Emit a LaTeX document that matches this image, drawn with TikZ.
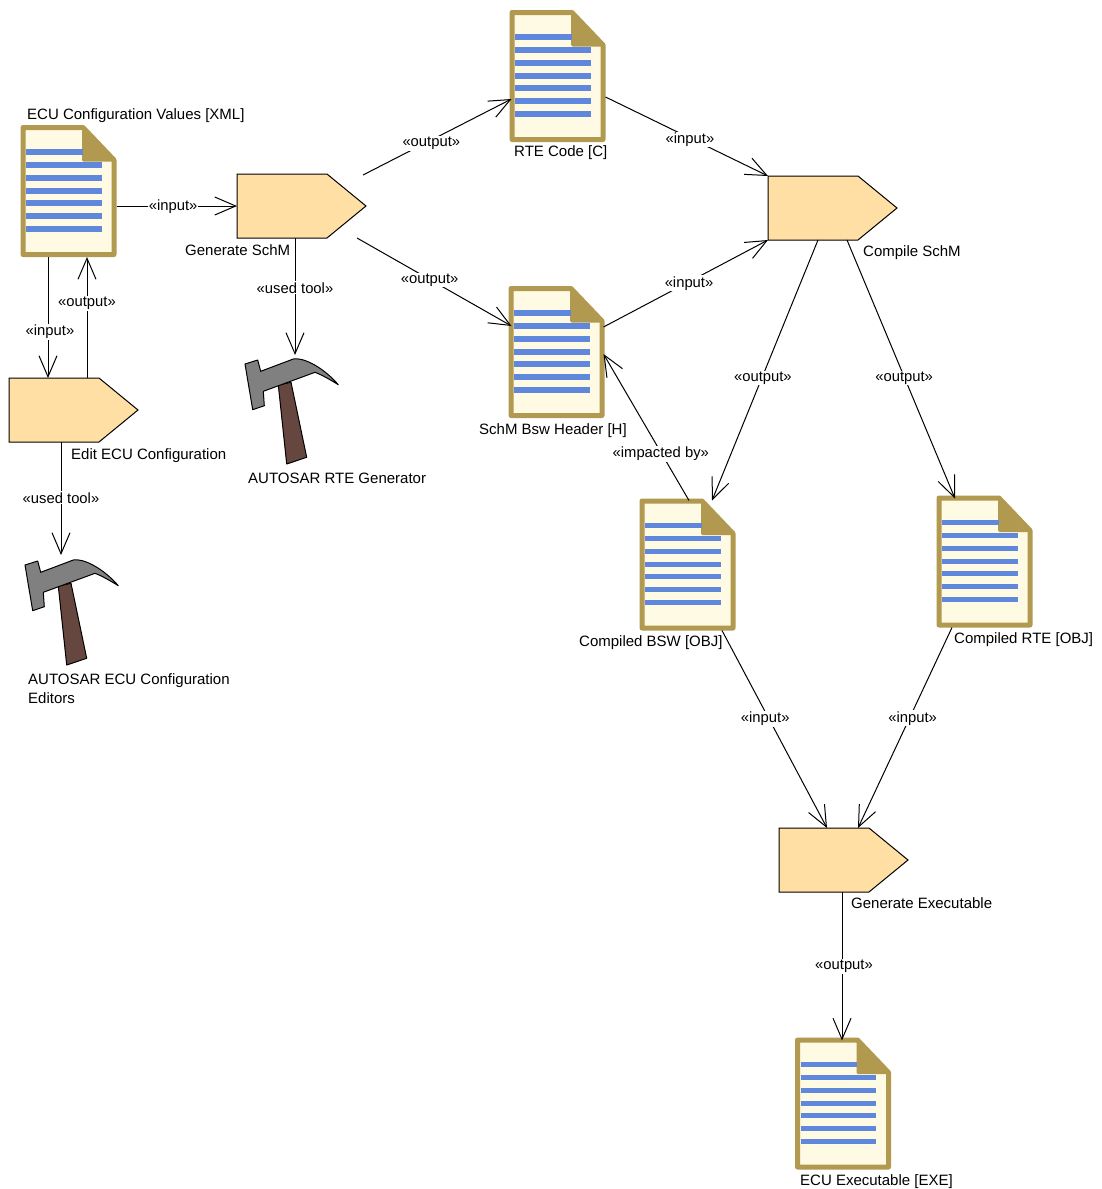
\documentclass[tikz,border=0pt]{standalone}
\usepackage{fontspec}
\setmainfont{Liberation Sans}
\usetikzlibrary{
    arrows.meta,
    calc,
    shapes.symbols}
\definecolor{docgold}{HTML}{B1994F}
\definecolor{doccream}{HTML}{FFFAE3}
\definecolor{docblue}{HTML}{5F87DB}
\definecolor{taskfill}{HTML}{FFDFA3}
\definecolor{headgray}{HTML}{808080}
\definecolor{handlebrown}{HTML}{65473F}
\tikzset{
    docbox/.style={minimum width=96pt,minimum height=132pt,inner sep=0pt,outer sep=0pt},
    toolbox/.style={minimum width=93pt,minimum height=106pt,inner sep=0pt,outer sep=0pt},
    taskbox/.style={signal,signal to=east,signal pointer angle=78.7,draw=black,line width=1pt,fill=taskfill,
      minimum width=129pt,minimum height=64pt,inner sep=0pt,outer sep=0pt},
    caption/.style={anchor=base west,inner sep=0pt,font=\fontsize{15}{19}\selectfont},
    stereo/.style={fill=white,inner sep=1pt,yshift=-1.5pt,font=\fontsize{14.8}{16}\selectfont},
    link/.style={draw=black,line width=1pt,-{Straight Barb[length=21pt,width=18pt]}}
}

\begin{document}
\begin{tikzpicture}[x=1pt,y=-1pt]
    \useasboundingbox (0,0) rectangle (1101,1189);
    % documents
    \node[docbox,anchor=north west] (ecuval) at (20.5,125) {};
    \node[docbox,anchor=north west] (rtecode) at (509.5,10) {};
    \node[docbox,anchor=north west] (schmhdr) at (508.5,286) {};
    \node[docbox,anchor=north west] (bswobj) at (639.5,498.5) {};
    \node[docbox,anchor=north west] (rteobj) at (936.5,495.5) {};
    \node[docbox,anchor=north west] (ecuexe) at (795,1037.5) {};
    \foreach \d in {ecuval,rtecode,schmhdr,bswobj,rteobj,ecuexe} {
      \begin{scope}[shift={(\d.north west)}]
        \draw [docgold,fill=doccream,line width=5pt,line join=round]
          (2.5,2.5) -- (62.5,2.5) -- (93.5,35) -- (93.5,129.5) -- (2.5,129.5) -- cycle;
        \fill [docgold,draw=docgold,line width=3pt,line join=round]
          (63,3) -- (93,35) -- (63,35) -- cycle;
        \draw [docblue,line width=5.5pt] (5.5,27) -- (62,27);
        \foreach \y in {40,53,66,78,91,104} {
          \draw [docblue,line width=5.5pt] (5.5,\y) -- (81,\y);
        }
      \end{scope}
    }
    % tasks
    \node[taskbox,anchor=north west] (edit) at (9,378) {};
    \node[taskbox,anchor=north west] (gen) at (237,174) {};
    \node[taskbox,anchor=north west] (compile) at (768,176) {};
    \node[taskbox,anchor=north west] (genexe) at (779,828) {};
    % tools
    \node[toolbox,anchor=north west] (ecutool) at (25,559) {};
    \node[toolbox,anchor=north west] (rtetool) at (245,358) {};
    \foreach \t in {ecutool,rtetool} {
      \begin{scope}[shift={(\t.north west)}]
        \draw [black,fill=handlebrown,line width=1pt,line join=round]
          (33.3,27) -- (46,24.3) -- (61.7,99.3) -- (41.7,106) -- cycle;
        \draw [black,fill=headgray,line width=1pt,line join=round]
          (0,6) -- (12.7,2) -- (15.7,13.3) -- (48.3,1)
          .. controls (58,-1) and (78,9) .. (93.3,26.7)
          .. controls (84,21) and (77,17) .. (70,14.3)
          -- (18.3,33.3) -- (19.3,47.7) -- (7.7,51.7) -- cycle;
      \end{scope}
    }
    % captions
    \node[caption] (ecuvaltxt) at (27,119) {ECU Configuration Values [XML]};
    \node[caption] (gentxt) at (185,255) {Generate SchM};
    \node[caption] (edittxt) at (71,459) {Edit ECU Configuration};
    \node[caption] (rtetooltxt) at (248,483) {AUTOSAR RTE Generator};
    \node[caption,align=left,anchor=north west] (ecutooltxt) at (28,673) {AUTOSAR ECU Configuration\\Editors};
    \node[caption] (rtecodetxt) at (514,156) {RTE Code [C]};
    \node[caption] (schmhdrtxt) at (479,434) {SchM Bsw Header [H]};
    \node[caption] (compiletxt) at (863,256) {Compile SchM};
    \node[caption] (bswobjtxt) at (579,646) {Compiled BSW [OBJ]};
    \node[caption] (rteobjtxt) at (954,643) {Compiled RTE [OBJ]};
    \node[caption] (genexetxt) at (851,908) {Generate Executable};
    \node[caption] (ecuexetxt) at (800,1185) {ECU Executable [EXE]};
    % connectors
    \draw [link] (ecuval.east |- gen.west) -- node[stereo,pos=.47,yshift=1pt] (l1) {«input»} (gen.west);
    \draw [link] ($ (ecuval.south west) + (27.5,0) $) -- node[stereo,pos=.6,xshift=2pt,yshift=-1pt] (l2) {«input»} ($ (edit.north west) + (39,0) $);
    \draw [link] ($ (edit.north west) + (78,0) $) -- node[stereo,pos=.63] (l3) {«output»} ($ (ecuval.south west) + (66.5,0) $);
    \draw [link] ($ (edit.south west) + (52,0) $) -- node[stereo,pos=.48] (l4) {«used tool»} ($ (ecutool.north west) + (36,-4) $);
    \draw [link] ($ (gen.north west) + (126,1) $) -- node[stereo,pos=.46,yshift=-2pt] (l5) {«output»} ($ (rtecode.west) + (2,23) $);
    \draw [link] ($ (gen.south west) + (120,0) $) -- node[stereo,pos=.47,yshift=1pt] (l6) {«output»} ($ (schmhdr.west) + (3,-26) $);
    \draw [link] ($ (gen.south west) + (58,0) $) -- node[stereo,pos=.413] (l7) {«used tool»} ($ (rtetool.north west) + (50,-3) $);
    \draw [link] ($ (rtecode.east) + (0,21) $) -- node[stereo,pos=.52] (l8) {«input»} (compile.north west);
    \draw [link] ($ (schmhdr.east) + (-1,-25) $) -- node[stereo,pos=.52] (l9) {«input»} (compile.south west);
    \draw [link] ($ (compile.south west) + (50,0) $) -- node[stereo,pos=.52,yshift=-1pt] (l10) {«output»} ($ (bswobj.north west) + (72.5,2) $);
    \draw [link] ($ (compile.south west) + (79,0) $) -- node[stereo,pos=.52,xshift=1pt,yshift=-2pt] (l11) {«output»} ($ (rteobj.north west) + (18.5,3) $);
    \draw [link] ($ (bswobj.north west) + (49.5,2) $) -- node[stereo,pos=.33] (l12) {«impacted by»} ($ (schmhdr.east) + (-1,2) $);
    \draw [link] ($ (bswobj.south east) + (-13.5,0) $) -- node[stereo,pos=.45,xshift=-4pt,yshift=2pt] (l13) {«input»} ($ (genexe.north west) + (48,0) $);
    \draw [link] ($ (rteobj.south east) + (-80.5,0) $) -- node[stereo,pos=.45,xshift=3pt,yshift=1pt] (l14) {«input»} ($ (genexe.north west) + (79,0) $);
    \draw [link] ($ (genexe.south west) + (63,0) $) -- node[stereo,pos=.49,xshift=2pt] (l15) {«output»} ($ (ecuexe.north west) + (47,3) $);
  \end{tikzpicture}
\end{document}
